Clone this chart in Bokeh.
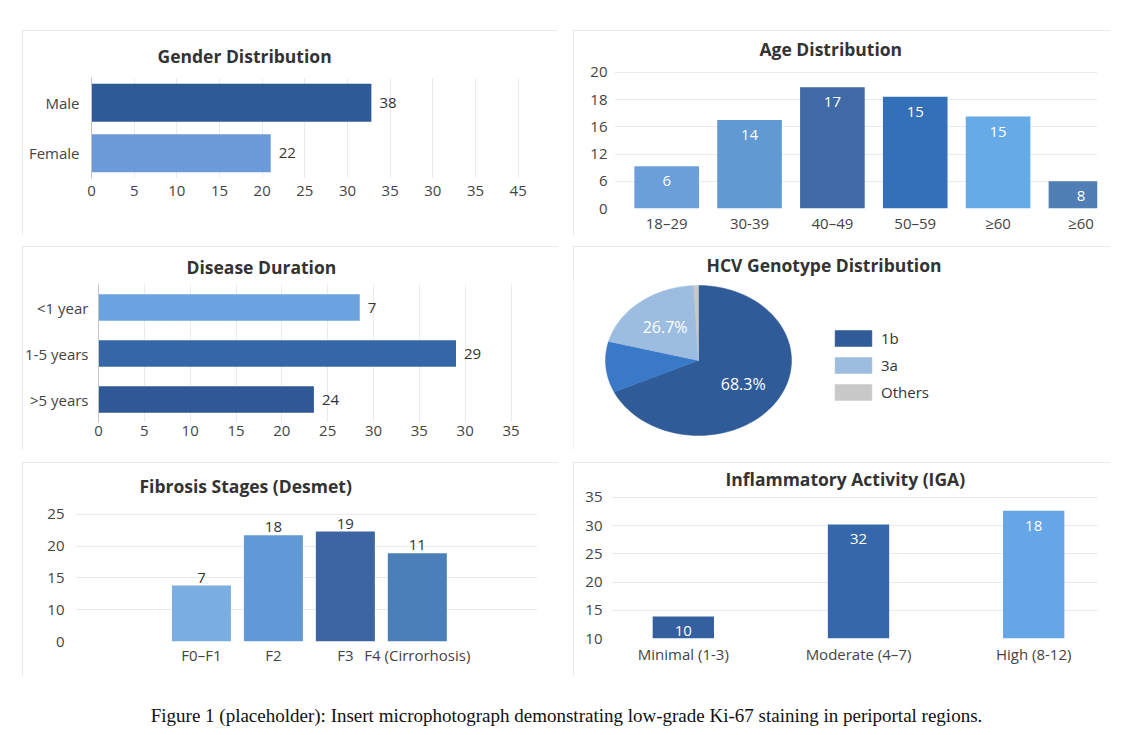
import numpy as np
from bokeh.plotting import figure
from bokeh.models import (Range1d, FactorRange, FixedTicker, Label, Legend, LegendItem,
                          ColumnDataSource, Spacer)
from bokeh.layouts import row, column
from bokeh.core.properties import value
from bokeh.embed import file_html
from bokeh.resources import INLINE

# ---------------- data ----------------
gender_categories = ["Male", "Female"]
gender_bar_lengths = [32.8, 21.0]
gender_value_labels = ["38", "22"]
gender_tick_values = [0, 5, 10, 15, 20, 25, 30, 35, 40, 45, 50]
gender_tick_labels = ["0", "5", "10", "15", "20", "25", "30", "35", "30", "35", "45"]

age_categories = ["18\u201329", "30-39", "40\u201349", "50\u201359", "\u226560", "\u226560"]
age_bar_heights = [6.2, 13.0, 17.8, 16.4, 13.5, 4.0]
age_value_labels = ["6", "14", "17", "15", "15", "8"]
age_tick_values = [0, 4, 8, 12, 16, 20]
age_tick_labels = ["0", "6", "12", "16", "18", "20"]

duration_categories = ["<1 year", "1-5 years", ">5 years"]
duration_bar_lengths = [28.5, 39.0, 23.5]
duration_value_labels = ["7", "29", "24"]
duration_tick_values = [0, 5, 10, 15, 20, 25, 30, 35, 40, 45]
duration_tick_labels = ["0", "5", "10", "15", "20", "25", "30", "35", "30", "35"]

genotype_names = ["1b", "unlabelled", "3a", "Others"]
genotype_shares = [68.1, 11.0, 20.1, 0.8]
genotype_slice_labels = ["68.3%", "", "26.7%", ""]

fibrosis_categories = ["F0\u2013F1", "F2", "F3", "F4 (Cirrorhosis)"]
fibrosis_bar_heights = [8.8, 16.7, 17.3, 13.9]
fibrosis_value_labels = ["7", "18", "19", "11"]
fibrosis_tick_values = [0, 5, 10, 15, 20]
fibrosis_tick_labels = ["0", "10", "15", "20", "25"]

iga_categories = ["Minimal (1-3)", "Moderate (4\u20137)", "High (8-12)"]
iga_bar_heights = [13.9, 30.2, 32.6]
iga_value_labels = ["10", "32", "18"]

caption_text = ("Figure 1 (placeholder): Insert microphotograph demonstrating "
                "low-grade Ki-67 staining in periportal regions.")

# ---------------- styles ----------------
gender_colors = ["#2e5a98", "#6b9ad8"]
age_colors = ["#6a9fd9", "#6199d3", "#3f6aa6", "#3470b8", "#66aae8", "#4f7fb5"]
duration_colors = ["#6aa3e0", "#3566a8", "#2e5996"]
genotype_colors = ["#2f5b98", "#3a78c8", "#9dbde0", "#c8c8c8"]
fibrosis_colors = ["#7aaee0", "#6099d5", "#3c65a2", "#4a7fb9"]
iga_colors = ["#3560a0", "#3567aa", "#64a6e6"]

FONT = "Open Sans"
TXT = "#333333"
TICK = "#444444"
GRID = "#ebebeb"
PANEL_STYLE = {"outline": "1px solid #e2e2e2", "outline-offset": "-1px"}


def make_fig(w, h, xr, yr, mbl, mbr, mbt, mbb, title, offset, standoff):
    p = figure(width=w, height=h, x_range=xr, y_range=yr, output_backend="svg",
               toolbar_location=None, min_border_left=mbl, min_border_right=mbr,
               min_border_top=mbt, min_border_bottom=mbb)
    p.frame_align = False
    p.outline_line_color = None
    p.background_fill_color = "white"
    p.border_fill_color = "white"
    p.styles = PANEL_STYLE
    p.title.text = title
    p.title.align = "left"
    p.title.offset = offset
    p.title.standoff = standoff
    p.title.text_font = FONT
    p.title.text_font_size = "17.5px"
    p.title.text_font_style = "bold"
    p.title.text_color = TXT
    return p


def style_axes(p):
    for ax in (p.xaxis[0], p.yaxis[0]):
        ax.major_tick_line_color = None
        ax.minor_tick_line_color = None
        ax.major_label_text_font = FONT
        ax.major_label_text_font_size = "15px"
        ax.major_label_text_color = TICK
        ax.axis_line_color = None
    p.xgrid.grid_line_color = GRID
    p.ygrid.grid_line_color = GRID


# ---------- Panel 1: Gender ----------
W1, H1, L1, R1, T1, B1 = 535, 205, 69, 18, 47, 57
p1 = make_fig(W1, H1, Range1d(0, 52.5), FactorRange(*gender_categories[::-1], range_padding=0),
              L1, R1, T1, B1, "Gender Distribution", 135 - L1, 20)
style_axes(p1)
p1.yaxis.axis_line_color = "#c4c4c4"
p1.xaxis.ticker = FixedTicker(ticks=gender_tick_values)
p1.xaxis.major_label_overrides = dict(zip(gender_tick_values, gender_tick_labels))
p1.xaxis.major_label_standoff = 1
p1.yaxis.major_label_standoff = 6
p1.ygrid.grid_line_color = None
src1 = ColumnDataSource(dict(cat=gender_categories, v=gender_bar_lengths, lab=gender_value_labels,
                             c=gender_colors))
p1.hbar(y="cat", right="v", left=0, height=0.75, fill_color="c", line_color=None, source=src1)
p1.text(x="v", y="cat", text="lab", x_offset=8, text_baseline="middle", text_align="left",
        text_font=value(FONT), text_font_size="15px", text_color=TXT, source=src1)

# ---------- Panel 2: Age ----------
W2, H2, L2, R2, T2, B2 = 537, 205, 41, 13, 35, 26
p2 = make_fig(W2, H2, Range1d(-0.63, 5.2), Range1d(0, 21), L2, R2, T2, B2,
              "Age Distribution", 186 - L2, 9)
style_axes(p2)
age_x = list(range(len(age_categories)))
p2.xaxis.ticker = FixedTicker(ticks=age_x)
p2.xaxis.major_label_overrides = dict(zip(age_x, age_categories))
p2.xaxis.major_label_standoff = -2
p2.yaxis.ticker = FixedTicker(ticks=age_tick_values)
p2.yaxis.major_label_overrides = dict(zip(age_tick_values, age_tick_labels))
p2.yaxis.major_label_standoff = 1
p2.xgrid.grid_line_color = None
src2 = ColumnDataSource(dict(x=age_x, v=age_bar_heights, lab=age_value_labels, c=age_colors))
p2.vbar(x="x", top="v", bottom=0, width=0.78, fill_color="c", line_color=None, source=src2)
p2.text(x="x", y="v", text="lab", y_offset=15, text_baseline="middle", text_align="center",
        text_font=value(FONT), text_font_size="15px", text_color="white", source=src2)

# ---------- Panel 3: Disease duration ----------
W3, H3, L3, R3, T3, B3 = 536, 204, 75, 20, 38, 28
p3 = make_fig(W3, H3, Range1d(0, 48), FactorRange(*duration_categories[::-1], range_padding=0),
              L3, R3, T3, B3, "Disease Duration", 163 - L3, 11)
style_axes(p3)
p3.yaxis.axis_line_color = "#c4c4c4"
p3.xaxis.ticker = FixedTicker(ticks=duration_tick_values)
p3.xaxis.major_label_overrides = dict(zip(duration_tick_values, duration_tick_labels))
p3.xaxis.major_label_standoff = -3
p3.yaxis.major_label_standoff = 4
p3.ygrid.grid_line_color = None
src3 = ColumnDataSource(dict(cat=duration_categories, v=duration_bar_lengths,
                             lab=duration_value_labels, c=duration_colors))
p3.hbar(y="cat", right="v", left=0, height=0.58, fill_color="c", line_color=None, source=src3)
p3.text(x="v", y="cat", text="lab", x_offset=8, text_baseline="middle", text_align="left",
        text_font=value(FONT), text_font_size="15px", text_color=TXT, source=src3)

# ---------- Panel 4: HCV genotype pie ----------
W4, H4, L4, R4, T4, B4 = 537, 204, 0, 0, 35, 0
FW4, FH4 = W4 - L4 - R4, H4 - T4 - B4
p4 = make_fig(W4, H4, Range1d(0, FW4), Range1d(0, FH4), L4, R4, T4, B4,
              "HCV Genotype Distribution", 133 - L4, 9)
p4.xaxis.visible = False
p4.yaxis.visible = False
p4.xgrid.grid_line_color = None
p4.ygrid.grid_line_color = None
cx, cy, rx, ry = 125, FH4 - (360 - 246 - T4), 93, 75
frac = np.array(genotype_shares) / np.sum(genotype_shares)
ends = np.cumsum(frac)
starts = ends - frac
xs, ys, lx, ly = [], [], [], []
for s, e in zip(starts, ends):
    t = np.radians(90 - 360 * np.linspace(s, e, 80))
    xs.append([float(cx)] + [float(v) for v in cx + rx * np.cos(t)])
    ys.append([float(cy)] + [float(v) for v in cy + ry * np.sin(t)])
    m = np.radians(90 - 360 * (s + e) / 2)
    lx.append(float(cx + 0.57 * rx * np.cos(m)))
    ly.append(float(cy + 0.57 * ry * np.sin(m)))
src4 = ColumnDataSource(dict(xs=xs, ys=ys, c=genotype_colors, name=genotype_names))
pie = p4.patches("xs", "ys", fill_color="c", line_color="c", line_width=0.5, source=src4)
src4l = ColumnDataSource(dict(x=lx, y=ly, lab=genotype_slice_labels))
p4.text(x="x", y="y", text="lab", text_baseline="middle", text_align="center",
        text_font=value(FONT), text_font_size="16px", text_color="white", source=src4l)
legend = Legend(items=[LegendItem(label=genotype_names[i], renderers=[pie], index=i)
                       for i in (0, 2, 3)],
                location=(257, 48), glyph_width=46, glyph_height=20, label_height=20,
                label_standoff=5, spacing=7, padding=0, margin=0,
                border_line_color=None, background_fill_alpha=0,
                label_text_font=FONT, label_text_font_size="15px", label_text_color=TXT)
p4.add_layout(legend)

# ---------- Panel 5: Fibrosis ----------
W5, H5, L5, R5, T5, B5 = 536, 214, 53, 21, 43, 35
p5 = make_fig(W5, H5, Range1d(-1.75, 4.67), Range1d(0, 21.4), L5, R5, T5, B5,
              "Fibrosis Stages (Desmet)", 117 - L5, 16)
style_axes(p5)
fib_x = list(range(len(fibrosis_categories)))
p5.xaxis.ticker = FixedTicker(ticks=fib_x)
p5.xaxis.major_label_overrides = dict(zip(fib_x, fibrosis_categories))
p5.xaxis.major_label_standoff = -3
p5.yaxis.ticker = FixedTicker(ticks=fibrosis_tick_values)
p5.yaxis.major_label_overrides = dict(zip(fibrosis_tick_values, fibrosis_tick_labels))
p5.yaxis.major_label_standoff = 5
p5.xgrid.grid_line_color = None
src5 = ColumnDataSource(dict(x=fib_x, v=fibrosis_bar_heights, lab=fibrosis_value_labels,
                             c=fibrosis_colors))
p5.vbar(x="x", top="v", bottom=0, width=0.82, fill_color="c", line_color=None, source=src5)
p5.text(x="x", y="v", text="lab", y_offset=-3, text_baseline="bottom", text_align="center",
        text_font=value(FONT), text_font_size="15px", text_color=TXT, source=src5)

# ---------- Panel 6: Inflammatory activity ----------
W6, H6, L6, R6, T6, B6 = 537, 214, 38, 12, 28, 38
p6 = make_fig(W6, H6, Range1d(-0.41, 2.37), Range1d(10, 36.2), L6, R6, T6, B6,
              "Inflammatory Activity (IGA)", 152 - L6, 0)
style_axes(p6)
iga_x = list(range(len(iga_categories)))
p6.xaxis.ticker = FixedTicker(ticks=iga_x)
p6.xaxis.major_label_overrides = dict(zip(iga_x, iga_categories))
p6.xaxis.major_label_standoff = -1
p6.yaxis.ticker = FixedTicker(ticks=[10, 15, 20, 25, 30, 35])
p6.yaxis.major_label_standoff = 3
p6.xgrid.grid_line_color = None
src6 = ColumnDataSource(dict(x=iga_x, v=iga_bar_heights, lab=iga_value_labels, c=iga_colors))
p6.vbar(x="x", top="v", bottom=10, width=0.35, fill_color="c", line_color=None, source=src6)
p6.text(x="x", y="v", text="lab", y_offset=15, text_baseline="middle", text_align="center",
        text_font=value(FONT), text_font_size="15px", text_color="white", source=src6)

# ---------- Caption ----------
CW, CH = 1135, 52
cap = figure(width=CW, height=CH, x_range=Range1d(0, 1), y_range=Range1d(0, 1),
             output_backend="svg", toolbar_location=None, min_border=0,
             x_axis_location=None, y_axis_location=None)
cap.frame_align = False
cap.outline_line_color = None
cap.xgrid.grid_line_color = None
cap.ygrid.grid_line_color = None
cap.add_layout(Label(x=566, y=CH - (715 - 676), x_units="screen", y_units="screen",
                     text=caption_text, text_font="Liberation Serif", text_font_size="19px",
                     text_color="#111111", text_align="center", text_baseline="middle"))

layout = column(
    Spacer(height=30),
    row(Spacer(width=22), p1, Spacer(width=16), p2),
    Spacer(height=11),
    row(Spacer(width=22), p3, Spacer(width=15), p4),
    Spacer(height=12),
    row(Spacer(width=22), p5, Spacer(width=15), p6),
    cap,
)

open("out.html", "w").write(file_html(layout, INLINE))
